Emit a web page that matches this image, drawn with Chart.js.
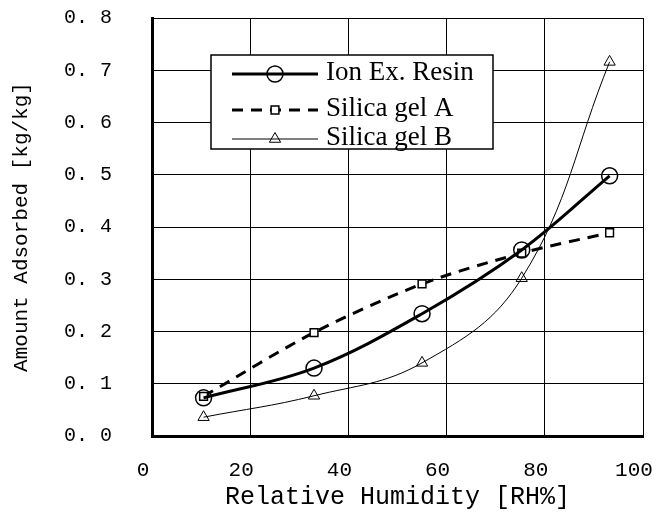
<!DOCTYPE html>
<html>
<head>
<meta charset="utf-8">
<script src="https://cdn.jsdelivr.net/npm/chart.js@4.4.1/dist/chart.umd.min.js"></script>
<style>
  html, body { margin: 0; padding: 0; background: #fff; }
</style>
</head>
<body>
<canvas id="myChart" width="658" height="516"></canvas>
<script>
    // données
    var humidity = [10.5, 33, 55, 75.3, 93.2];
    var ionResin = [0.073, 0.130, 0.234, 0.356, 0.498];
    var silicaA = [0.076, 0.198, 0.291, 0.350, 0.389];
    var silicaB = [0.036, 0.077, 0.140, 0.302, 0.716];
    var seriesNames = ['Ion Ex. Resin', 'Silica gel A', 'Silica gel B'];

    function toPoints(ys) {
        var pts = [];
        for (let i = 0; i < humidity.length; i++) {
            pts.push({ x: humidity[i], y: ys[i] });
        }
        return pts;
    }

    // legende dessinée à la main (ligne + marqueur comme Excel)
    const boxLegend = {
        id: 'boxLegend',
        afterDatasetsDraw(chart) {
            const ctx = chart.ctx;
            ctx.save();
            ctx.fillStyle = '#fff';
            ctx.strokeStyle = '#000';
            ctx.lineWidth = 1.5;
            ctx.fillRect(211, 55, 282, 94);
            ctx.strokeRect(211, 55, 282, 94);
            var rows = [74, 110, 139];
            chart.data.datasets.forEach(function (ds, i) {
                var y = rows[i];
                ctx.beginPath();
                ctx.setLineDash(ds.borderDash || []);
                ctx.lineWidth = ds.borderWidth;
                ctx.strokeStyle = '#000';
                ctx.moveTo(232, y);
                ctx.lineTo(318, y);
                ctx.stroke();
                ctx.setLineDash([]);
                ctx.fillStyle = ds.pointBackgroundColor;
                ctx.strokeStyle = '#000';
                ctx.lineWidth = ds.pointBorderWidth;
                Chart.helpers.drawPoint(ctx, {
                    pointStyle: ds.pointStyle,
                    radius: ds.pointRadius,
                    borderWidth: ds.pointBorderWidth,
                    rotation: 0
                }, 275, y);
                ctx.fillStyle = '#000';
                ctx.font = '27px "Liberation Serif"';
                ctx.textBaseline = 'middle';
                ctx.textAlign = 'left';
                ctx.fillText(ds.label, 326, y - 1);
            });
            ctx.restore();
        }
    };

    var ctx = document.getElementById('myChart').getContext('2d');
    var myChart = new Chart(ctx, {
        type: 'line',
        data: {
            datasets: [{
                label: seriesNames[0],
                data: toPoints(ionResin),
                borderColor: '#000',
                borderWidth: 3,
                tension: 0.35,
                pointStyle: 'circle',
                pointRadius: 8,
                pointBorderWidth: 1.5,
                pointBorderColor: '#000',
                pointBackgroundColor: 'rgba(0,0,0,0)'
            }, {
                label: seriesNames[1],
                data: toPoints(silicaA),
                borderColor: '#000',
                borderWidth: 3,
                borderDash: [11, 8],
                tension: 0.3,
                pointStyle: 'rect',
                pointRadius: 5.5,
                pointBorderWidth: 1.5,
                pointBorderColor: '#000',
                pointBackgroundColor: '#fff'
            }, {
                label: seriesNames[2],
                data: toPoints(silicaB),
                borderColor: '#000',
                borderWidth: 1,
                tension: 0.4,
                pointStyle: 'triangle',
                pointRadius: 6.5,
                pointBorderWidth: 1,
                pointBorderColor: '#000',
                pointBackgroundColor: 'rgba(0,0,0,0)'
            }]
        },
        options: {
            responsive: false,
            animation: false,
            layout: { padding: { left: 9, right: 15, top: 18, bottom: 0 } },
            plugins: {
                legend: { display: false },
                tooltip: { enabled: false }
            },
            scales: {
                x: {
                    type: 'linear',
                    min: 0,
                    max: 100,
                    ticks: {
                        stepSize: 20,
                        padding: 22,
                        labelOffset: -9,
                        color: '#000',
                        font: { family: '"Liberation Mono"', size: 21 }
                    },
                    grid: { color: '#000', lineWidth: 1, drawTicks: false },
                    border: { color: '#000', width: 3 },
                    title: {
                        display: true,
                        text: 'Relative Humidity [RH%]',
                        color: '#000',
                        font: { family: '"Liberation Mono"', size: 25 },
                        padding: { top: 0, bottom: 4 }
                    },
                    afterFit: function (scale) {
                        scale.height = 80;
                        scale.paddingLeft = 0;
                        scale.paddingRight = 0;
                    }
                },
                y: {
                    min: 0,
                    max: 0.8,
                    ticks: {
                        stepSize: 0.1,
                        padding: 40,
                        color: '#000',
                        font: { family: '"Liberation Mono"', size: 20 },
                        callback: function (v) { return v.toFixed(1).replace('.', '. '); }
                    },
                    grid: { color: '#000', lineWidth: 1, drawTicks: false },
                    border: { color: '#000', width: 3 },
                    title: {
                        display: true,
                        text: 'Amount Adsorbed [kg/kg]',
                        color: '#000',
                        font: { family: '"Liberation Mono"', size: 21 },
                        padding: { top: 0, bottom: 0 }
                    },
                    afterFit: function (scale) {
                        scale.width = 143;
                        scale.paddingTop = 0;
                        scale.paddingBottom = 0;
                    }
                }
            }
        },
        plugins: [boxLegend]
    });
</script>
</body>
</html>
